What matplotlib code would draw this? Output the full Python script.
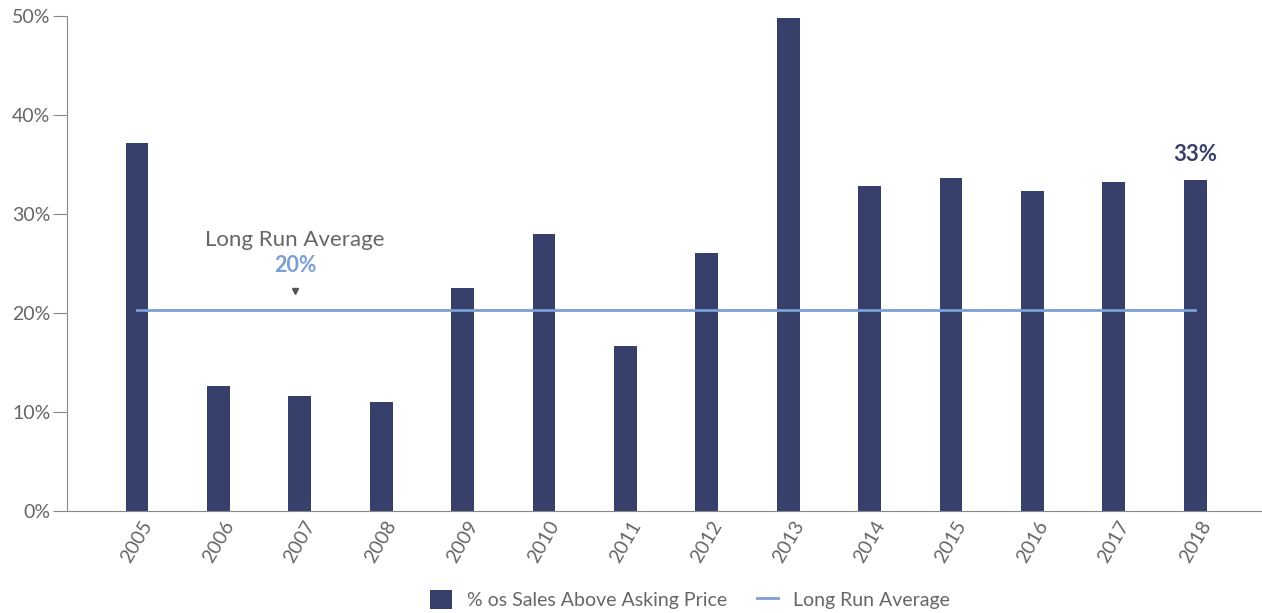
import matplotlib.pyplot as plt
from matplotlib.patches import Patch
from matplotlib.lines import Line2D
from matplotlib.ticker import FuncFormatter

plt.rcParams['font.family'] = ['Lato', 'DejaVu Sans']

years = ['2005', '2006', '2007', '2008', '2009', '2010', '2011',
         '2012', '2013', '2014', '2015', '2016', '2017', '2018']
pct_above = [37.2, 12.6, 11.6, 11.0, 22.5, 28.0, 16.7,
             26.1, 49.8, 32.8, 33.6, 32.3, 33.2, 33.4]
long_run_avg = 20.3

bar_col = '#373f6b'
line_col = '#7b9fd4'
grey = '#666666'

fig = plt.figure(figsize=(12.62, 6.13), dpi=100)
ax = fig.add_axes([67 / 1262, 102 / 613, 1 - 67 / 1262, 495 / 613])

x = list(range(len(years)))
ax.bar(x, pct_above, width=0.28, color=bar_col, zorder=2)
ax.plot([x[0], x[-1]], [long_run_avg, long_run_avg], color=line_col, lw=2, zorder=3)

ax.set_xlim(-0.86, 13.82)
ax.set_ylim(0, 50)
ax.set_yticks([0, 10, 20, 30, 40, 50])
ax.yaxis.set_major_formatter(FuncFormatter(lambda v, p: '%d%%' % v))
ax.set_xticks(x)
ax.set_xticklabels(years, rotation=60, ha='center', va='top')

for s in ['top', 'right']:
    ax.spines[s].set_visible(False)
for s in ['left', 'bottom']:
    ax.spines[s].set_color('#888888')
ax.tick_params(axis='y', length=10, color='#888888', labelcolor=grey, labelsize=14, pad=2)
ax.tick_params(axis='x', length=0, labelcolor=grey, labelsize=14, pad=5)

# annotations
ax.text(1.94, 27.4, 'Long Run Average', ha='center', va='center', fontsize=16, color=grey)
ax.text(1.94, 24.8, '%d%%' % round(long_run_avg), ha='center', va='center', fontsize=15.5,
        color=line_col, fontweight='bold')
ax.plot([1.94], [22.2], marker='v', color='#555555', markersize=5, ls='none')
ax.text(x[-1], 36.0, '%d%%' % round(pct_above[-1]), ha='center', va='center', fontsize=16,
        color=bar_col, fontweight='bold')

handles = [Patch(facecolor=bar_col, label='% os Sales Above Asking Price'),
           Line2D([0], [0], color=line_col, lw=2, label='Long Run Average')]
fig.legend(handles=handles, loc='lower center', bbox_to_anchor=(0.547, -0.022), ncol=2,
           frameon=False, fontsize=14, labelcolor=grey, handlelength=1.1,
           handleheight=1.1, columnspacing=1.5)

fig.savefig('out.png', dpi=100)
